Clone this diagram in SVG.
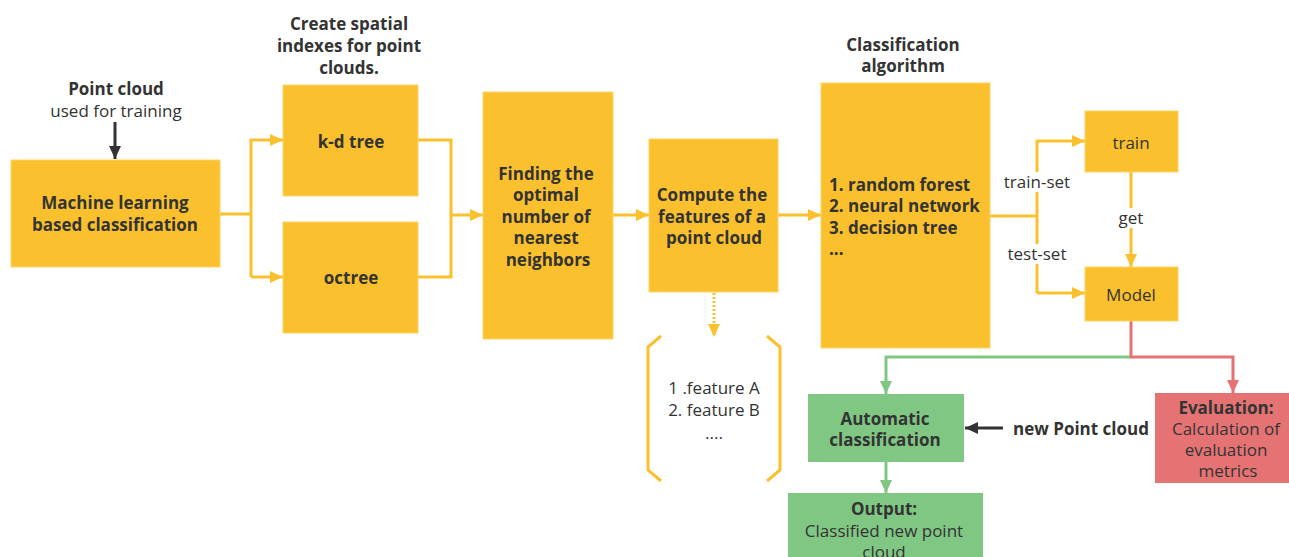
<svg xmlns="http://www.w3.org/2000/svg" width="1289" height="557" viewBox="0 0 1289 557">
<style>
text{font-family:"Open Sans","Noto Sans","Liberation Sans",sans-serif;fill:#333;font-size:17px;text-anchor:middle;dominant-baseline:central}
.b{font-weight:bold}
.y{fill:#FBC02D;stroke:#FDD466;stroke-width:1}
.g{fill:#81C784}
.r{fill:#E57373}
.ly{stroke:#FBC02D;stroke-width:3;fill:none}
.lg{stroke:#81C784;stroke-width:3;fill:none}
.lr{stroke:#E57373;stroke-width:3;fill:none}
.lk{stroke:#333;stroke-width:3;fill:none}
</style>
<defs>
<marker id="ay" markerUnits="userSpaceOnUse" markerWidth="14" markerHeight="12" refX="13" refY="6" orient="auto"><path d="M0,0 L13,6 L0,12 Z" fill="#FBC02D"/></marker>
<marker id="ag" markerUnits="userSpaceOnUse" markerWidth="14" markerHeight="12" refX="13" refY="6" orient="auto"><path d="M0,0 L13,6 L0,12 Z" fill="#81C784"/></marker>
<marker id="ar" markerUnits="userSpaceOnUse" markerWidth="14" markerHeight="12" refX="13" refY="6" orient="auto"><path d="M0,0 L13,6 L0,12 Z" fill="#E57373"/></marker>
<marker id="ak" markerUnits="userSpaceOnUse" markerWidth="14" markerHeight="12" refX="13" refY="6" orient="auto"><path d="M0,0 L13,6 L0,12 Z" fill="#333"/></marker>
</defs>

<g id="connectors">
<path class="lk" d="M115,122 V159" marker-end="url(#ak)"/>
<path class="ly" d="M220,214 H251"/>
<path class="ly" d="M251,277 V140 H283" marker-end="url(#ay)"/>
<path class="ly" d="M251,277 H283" marker-end="url(#ay)"/>
<path class="ly" d="M418,140 H451 V277 H418"/>
<path class="ly" d="M451,215 H483" marker-end="url(#ay)"/>
<path class="ly" d="M613,215 H649" marker-end="url(#ay)"/>
<path class="ly" d="M778,215 H821" marker-end="url(#ay)"/>
<path d="M714,293 V337" stroke="#FBC02D" stroke-width="3" stroke-dasharray="2,2" fill="none" marker-end="url(#ay)"/>
<path class="ly" d="M990,216 H1037"/>
<path class="ly" d="M1037,293 V141 H1085" marker-end="url(#ay)"/>
<path class="ly" d="M1037,293 H1085" marker-end="url(#ay)"/>
<path class="ly" d="M1131,172 V267" marker-end="url(#ay)"/>
<path class="lg" d="M1131,357 H886 V394" marker-end="url(#ag)"/>
<path class="lr" d="M1131,321 V357 H1233 V393" marker-end="url(#ar)"/>
<path class="lg" d="M886,462 V493" marker-end="url(#ag)"/>
<path class="lk" d="M1003,428 H965" marker-end="url(#ak)"/>
<rect x="1000" y="172" width="74" height="20" fill="#fff"/>
<text x="1037" y="181">train-set</text>
<rect x="1003" y="244" width="68" height="20" fill="#fff"/>
<text x="1037" y="253">test-set</text>
<rect x="1115" y="208" width="32" height="20" fill="#fff"/>
<text x="1131" y="217">get</text>
</g>

<g id="input-label">
<text class="b" x="116" y="88">Point cloud</text>
<text x="116" y="110">used for training</text>
</g>

<g id="ml">
<rect class="y" x="11" y="160" width="209" height="107"/>
<text class="b" x="115" y="202">Machine learning</text>
<text class="b" x="115" y="224">based classification</text>
</g>

<g id="spatial-title">
<text class="b" x="349" y="23">Create spatial</text>
<text class="b" x="349" y="45">indexes for point</text>
<text class="b" x="349" y="67">clouds.</text>
</g>

<g id="kdtree">
<rect class="y" x="283" y="85" width="135" height="111"/>
<text class="b" x="351" y="141">k-d tree</text>
</g>

<g id="octree">
<rect class="y" x="283" y="222" width="135" height="111"/>
<text class="b" x="351" y="277">octree</text>
</g>

<g id="finding">
<rect class="y" x="483" y="92" width="130" height="247"/>
<text class="b" x="546" y="173">Finding the</text>
<text class="b" x="546" y="194">optimal</text>
<text class="b" x="546" y="216">number of</text>
<text class="b" x="546" y="237">nearest</text>
<text class="b" x="548" y="259">neighbors</text>
</g>

<g id="compute">
<rect class="y" x="649" y="139" width="129" height="153"/>
<text class="b" x="712" y="194">Compute the</text>
<text class="b" x="712" y="216">features of a</text>
<text class="b" x="714" y="237">point cloud</text>
</g>

<g id="features">
<path class="ly" d="M661,336 L648,347 V470 L661,481"/>
<path class="ly" d="M767,336 L780,347 V470 L767,481"/>
<text x="714" y="387">1 .feature A</text>
<text x="714" y="409">2. feature B</text>
<text x="714" y="432">....</text>
</g>

<g id="class-title">
<text class="b" x="903" y="44">Classification</text>
<text class="b" x="903" y="65">algorithm</text>
</g>

<g id="classification">
<rect class="y" x="821" y="83" width="169" height="265"/>
<text class="b" x="829" y="184" style="text-anchor:start">1. random forest</text>
<text class="b" x="829" y="205" style="text-anchor:start">2. neural network</text>
<text class="b" x="829" y="227" style="text-anchor:start">3. decision tree</text>
<text class="b" x="829" y="248" style="text-anchor:start">...</text>
</g>

<g id="train">
<rect class="y" x="1085" y="111" width="93" height="61"/>
<text x="1131" y="142">train</text>
</g>

<g id="model">
<rect class="y" x="1085" y="267" width="93" height="54"/>
<text x="1131" y="294">Model</text>
</g>

<g id="auto">
<rect class="g" x="808" y="394" width="156" height="68"/>
<text class="b" x="885" y="418">Automatic</text>
<text class="b" x="885" y="439">classification</text>
</g>

<g id="new-point-cloud">
<text class="b" x="1081" y="428">new Point cloud</text>
</g>

<g id="evaluation">
<rect class="r" x="1155" y="393" width="134" height="90"/>
<text class="b" x="1226" y="407">Evaluation:</text>
<text x="1226" y="428">Calculation of</text>
<text x="1226" y="449">evaluation</text>
<text x="1228" y="470">metrics</text>
</g>

<g id="output">
<rect class="g" x="788" y="493" width="195" height="70"/>
<text class="b" x="884" y="508">Output:</text>
<text x="884" y="530">Classified new point</text>
<text x="884" y="551">cloud</text>
</g>
</svg>
